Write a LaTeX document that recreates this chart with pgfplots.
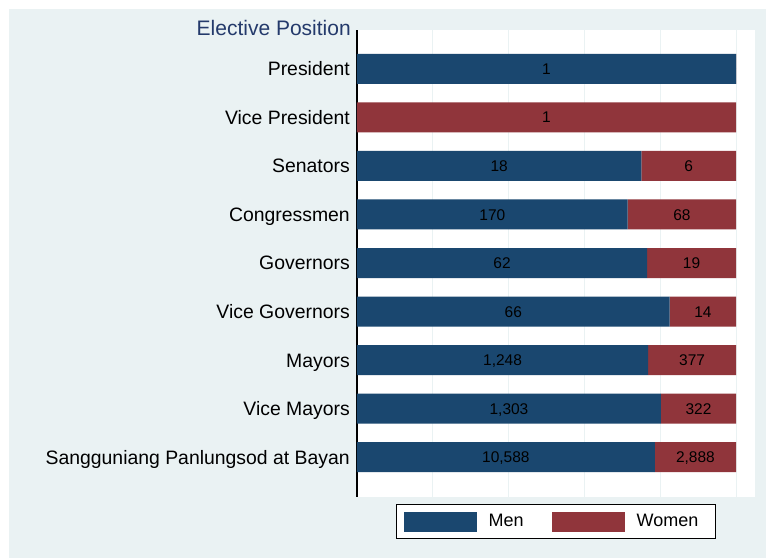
\documentclass[border=0pt]{standalone}
\usepackage{fontspec}
\setmainfont{Liberation Sans}
\usepackage{pgfplots}
\pgfplotsset{compat=1.18}
\usepackage{pgfplotstable}
\definecolor{stblue}{HTML}{1A476F}
\definecolor{stred}{HTML}{90353B}
\definecolor{stbg}{HTML}{EAF2F3}
\definecolor{sttitle}{HTML}{243A6B}

% counts of elected officials by position
\pgfplotstableread{
pos men women menlab womenlab
0 1 0 1 {}
1 0 1 {} 1
2 18 6 18 6
3 170 68 170 68
4 62 19 62 19
5 66 14 66 14
6 1248 377 1,248 377
7 1303 322 1,303 322
8 10588 2888 10,588 2,888
}\data

\begin{document}
\begin{tikzpicture}
\useasboundingbox (0pt,0pt) rectangle (766pt,-558pt);
\fill[stbg] (9pt,-9pt) rectangle (766pt,-558pt);
\begin{axis}[
    at={(357pt,-497pt)}, anchor=south west,
    scale only axis, width=398pt, height=467pt,
    stack plots=x,
    xmin=0, xmax=105,
    ymin=-0.80, ymax=8.82,
    y dir=reverse,
    axis background/.style={fill=white},
    axis y line*=left, axis x line*=bottom,
    x axis line style={draw=none},
    y axis line style={line width=1.2pt, black},
    xtick={20,40,60,80,100}, xticklabels={},
    xmajorgrids, major grid style={stbg, line width=1pt},
    ytick={0,...,8},
    yticklabels={President, Vice President, Senators, Congressmen, Governors,
        Vice Governors, Mayors, Vice Mayors, Sangguniang Panlungsod at Bayan},
    major tick length=0pt,
    yticklabel style={font=\fontsize{19.4}{22}\selectfont, inner sep=0pt,
        text height=13.9pt, text depth=0pt, xshift=-7pt},
    legend columns=2,
    legend style={at={(0.5,0)}, anchor=north, yshift=-7pt,
        draw=black, line width=1pt, fill=white,
        inner xsep=7pt, inner ysep=7pt,
        nodes={inner sep=0pt},
        font=\fontsize{18}{21}\selectfont,
        /tikz/every odd column/.append style={column sep=12pt},
        /tikz/every even column/.append style={column sep=28pt}},
    legend image code/.code={\fill[#1] (0pt,-10pt) rectangle (73pt,10pt);},
]
\addplot[xbar, bar width=30pt, fill=stblue, draw=none]
    table[y=pos, x expr={100*\thisrow{men}/(\thisrow{men}+\thisrow{women})}] {\data};
\addlegendentry{Men}
\addplot[xbar, bar width=30pt, fill=stred, draw=none]
    table[y=pos, x expr={100*\thisrow{women}/(\thisrow{men}+\thisrow{women})}] {\data};
\addlegendentry{Women\hspace*{10pt}}

\addplot[stack plots=false, only marks, mark=*, mark size=0pt, forget plot,
    nodes near coords, point meta=explicit symbolic,
    nodes near coords style={anchor=center, inner sep=0pt, black,
        text height=11.1pt, text depth=0pt,
        font=\fontsize{15.5}{18}\selectfont}]
    table[y=pos, x expr={50*\thisrow{men}/(\thisrow{men}+\thisrow{women})}, meta=menlab] {\data};
\addplot[stack plots=false, only marks, mark=*, mark size=0pt, forget plot,
    nodes near coords, point meta=explicit symbolic,
    nodes near coords style={anchor=center, inner sep=0pt, black,
        text height=11.1pt, text depth=0pt,
        font=\fontsize{15.5}{18}\selectfont}]
    table[y=pos, x expr={100*(\thisrow{men}+0.5*\thisrow{women})/(\thisrow{men}+\thisrow{women})}, meta=womenlab] {\data};
\end{axis}
\node[anchor=base east, text=sttitle, font=\fontsize{21}{24}\selectfont, inner sep=0pt]
    at (351pt,-35pt) {Elective Position};
\end{tikzpicture}
\end{document}
